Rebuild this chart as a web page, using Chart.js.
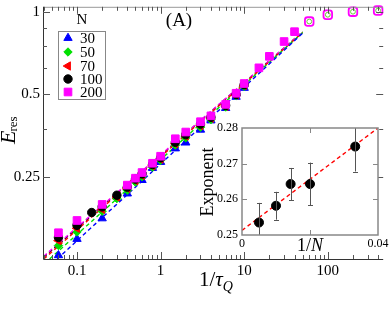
<!DOCTYPE html>
<html>
<head>
<meta charset="utf-8">
<script src="https://cdn.jsdelivr.net/npm/chart.js@4.4.1/dist/chart.umd.min.js"></script>
<style>
  body { margin: 0; background: #fff; }
  #wrap { position: relative; width: 390px; height: 312px; }
  #main { position: absolute; left: 0; top: 0; }
  #inset { position: absolute; left: 200px; top: 120px; }
</style>
</head>
<body>
<div id="wrap">
  <canvas id="main" width="390" height="312"></canvas>
  <canvas id="inset" width="190" height="136"></canvas>
</div>
<script>
// main panel: E_res against 1/tau_Q, one series per chain length N
const tauInv = [0.06, 0.1, 0.15, 0.2, 0.3, 0.4, 0.5, 0.6, 0.8, 1, 1.5, 2, 3, 4, 6, 8, 10, 15, 20, 30, 40];
const eres30 = [0.130, 0.149, null, 0.177, null, 0.218, null, 0.244, 0.270, 0.284, 0.318, 0.334, 0.372, 0.402, 0.446, 0.490, 0.528, null, null, null, null];
const eres50 = [0.141, 0.158, null, 0.188, 0.209, 0.224, 0.240, 0.251, 0.272, 0.288, 0.327, 0.348, 0.380, 0.405, 0.450, 0.495, 0.535, null, null, null, null];
const eres70 = [0.147, 0.163, null, 0.191, 0.212, 0.228, 0.243, 0.254, 0.275, 0.291, 0.331, 0.353, 0.385, 0.410, 0.453, 0.498, 0.540, null, null, null, null];
const eres100 = [0.151, 0.167, 0.186, 0.195, 0.215, 0.230, 0.246, 0.257, 0.278, 0.294, 0.335, 0.357, 0.390, 0.413, 0.456, 0.500, 0.543, null, null, null, null];
const eres200 = [0.157, 0.174, null, 0.199, null, 0.234, 0.248, 0.260, 0.281, 0.298, 0.345, 0.365, 0.398, 0.418, 0.460, 0.505, 0.548, 0.625, 0.688, 0.779, 0.846];

// slow-quench points drawn open
const openX = [60, 100, 200, 400];
const openY = [0.921, 0.975, 1.0, 1.01];

// dashed power-law fits (start and end), N = 30, 50, 70, 100, 200
const fitX0 = [0.058, 0.047, 0.04, 0.04, 0.04];
const fitY0 = [0.126, 0.126, 0.126, 0.128, 0.129];
const fitX1 = [50, 50, 50, 50, 50];
const fitY1 = [0.835, 0.84, 0.84, 0.845, 0.845];

const nLabels = ['30', '50', '70', '100', '200'];
const xTickLabels = [0.1, 1, 10, 100];
const yTickLabels = [0.25, 0.5, 1];

// inset: fitted exponent against 1/N
const invN = [0.005, 0.01, 0.0143, 0.02, 0.0333];
const expo = [0.2535, 0.2582, 0.2643, 0.2643, 0.2748];
const expoErr = [0.0055, 0.0039, 0.0045, 0.006, 0.007];
const expoFitX = [0, 0.04];
const expoFitY = [0.2513, 0.28];

const serif = '"Liberation Serif", "DejaVu Serif", serif';
const colors = ['#0000ff', '#00e000', '#ff0000', '#000000', '#ff00ff'];
const styles = [
  { pointStyle: 'triangle', rotation: 0, radius: 4.8 },
  { pointStyle: 'rectRot', rotation: 0, radius: 4.2 },
  { pointStyle: 'triangle', rotation: -90, radius: 4.8 },
  { pointStyle: 'circle', rotation: 0, radius: 4.2 },
  { pointStyle: 'rect', rotation: 0, radius: 5.4 }
];
const allSeries = [eres30, eres50, eres70, eres100, eres200];
// fit lines: black underneath, magenta above it, then red, green, blue
const lineOrder = [11, 12, 13, 15, 14];

function pairs(xs, ys) {
  const out = [];
  xs.forEach((x, i) => { if (ys[i] != null) out.push({ x, y: ys[i] }); });
  return out;
}

const datasets = [];
allSeries.forEach((ys, i) => {
  datasets.push({
    data: [{ x: fitX0[i], y: fitY0[i] }, { x: fitX1[i], y: fitY1[i] }],
    showLine: true,
    borderColor: colors[i],
    borderWidth: 1.4,
    borderDash: [4, 3],
    pointRadius: 0,
    order: lineOrder[i]
  });
});
allSeries.forEach((ys, i) => {
  datasets.push({
    data: pairs(tauInv, ys),
    pointStyle: styles[i].pointStyle,
    rotation: styles[i].rotation,
    pointRadius: styles[i].radius,
    backgroundColor: colors[i],
    borderColor: colors[i],
    borderWidth: 1,
    clip: false,
    order: 5 - i
  });
});
datasets.push({
  data: pairs(openX, openY),
  pointStyle: 'rectRounded',
  pointRadius: 5,
  backgroundColor: 'rgba(0,0,0,0)',
  borderColor: '#ff00ff',
  borderWidth: 1.8,
  clip: false,
  order: 0
});
datasets.push({
  data: pairs(openX, openY),
  pointStyle: 'circle',
  pointRadius: 2.4,
  backgroundColor: 'rgba(0,0,0,0)',
  borderColor: '#66cc33',
  borderWidth: 1,
  clip: false,
  order: 0
});

function marker(ctx, i, x, y) {
  if (Chart.helpers && Chart.helpers.drawPoint) {
    ctx.fillStyle = colors[i];
    ctx.strokeStyle = colors[i];
    ctx.lineWidth = 1;
    Chart.helpers.drawPoint(ctx, {
      pointStyle: styles[i].pointStyle,
      rotation: styles[i].rotation,
      radius: styles[i].radius,
      borderWidth: 1
    }, x, y);
  }
}

const mainDecor = {
  id: 'mainDecor',
  afterDraw(chart) {
    const { ctx, chartArea: a, scales: { x, y } } = chart;
    ctx.save();
    // frame
    ctx.lineWidth = 1;
    ctx.strokeStyle = '#999';
    ctx.beginPath();
    ctx.moveTo(a.left, a.top + 0.5);
    ctx.lineTo(a.right, a.top + 0.5);
    ctx.stroke();
    ctx.strokeStyle = '#333';
    ctx.beginPath();
    ctx.moveTo(a.left + 0.5, a.top);
    ctx.lineTo(a.left + 0.5, a.bottom + 0.5);
    ctx.lineTo(a.right, a.bottom + 0.5);
    ctx.stroke();

    // log ticks on bottom and top, pointing inward
    ctx.strokeStyle = '#555';
    for (let e = -2; e <= 2; e++) {
      for (let m = 1; m <= 9; m++) {
        const v = m * Math.pow(10, e);
        if (v < x.min || v > x.max) continue;
        const px = Math.round(x.getPixelForValue(v)) + 0.5;
        const len = m === 1 ? 7 : 4;
        ctx.beginPath();
        ctx.moveTo(px, a.bottom);
        ctx.lineTo(px, a.bottom - len);
        ctx.moveTo(px, a.top);
        ctx.lineTo(px, a.top + len);
        ctx.stroke();
      }
    }
    // y ticks on left and right
    const yMinor = [0.375, 0.625, 0.75, 0.875];
    yTickLabels.concat(yMinor).forEach(v => {
      const py = Math.round(y.getPixelForValue(v)) + 0.5;
      const len = yTickLabels.includes(v) ? 7 : 4;
      ctx.beginPath();
      ctx.moveTo(a.left, py);
      ctx.lineTo(a.left + len, py);
      ctx.moveTo(a.right, py);
      ctx.lineTo(a.right - len, py);
      ctx.stroke();
    });

    // legend
    ctx.strokeStyle = '#888';
    ctx.strokeRect(58.5, 31.5, 47, 68);
    ctx.fillStyle = '#000';
    ctx.font = '15px ' + serif;
    ctx.textAlign = 'center';
    ctx.textBaseline = 'middle';
    ctx.fillText('N', 82, 20);
    ctx.textAlign = 'left';
    const rows = [38, 52, 66, 79, 92];
    nLabels.forEach((t, i) => {
      marker(ctx, i, 68, rows[i]);
      ctx.fillStyle = '#000';
      ctx.fillText(t, 80, rows[i] + 1);
    });

    // panel label
    ctx.font = '19px ' + serif;
    ctx.textAlign = 'center';
    ctx.fillText('(A)', 179, 21);

    // x title 1/tau_Q
    ctx.textBaseline = 'alphabetic';
    ctx.textAlign = 'left';
    ctx.font = '21px ' + serif;
    let cx = 199;
    ctx.fillText('1/', cx, 286);
    cx += ctx.measureText('1/').width;
    ctx.font = 'italic 21px ' + serif;
    ctx.fillText('\u03c4', cx, 286);
    cx += ctx.measureText('\u03c4').width;
    ctx.font = 'italic 14px ' + serif;
    ctx.fillText('Q', cx, 291);

    // y title E_res
    ctx.save();
    ctx.translate(15, 144);
    ctx.rotate(-Math.PI / 2);
    ctx.font = 'italic 22px ' + serif;
    ctx.fillText('E', 0, 0);
    const w = ctx.measureText('E').width;
    ctx.font = '13px ' + serif;
    ctx.fillText('res', w - 1, 2);
    ctx.restore();

    ctx.restore();
  }
};

new Chart(document.getElementById('main'), {
  type: 'scatter',
  data: { datasets },
  options: {
    responsive: false,
    animation: false,
    devicePixelRatio: 1,
    layout: { padding: { top: 2, right: 0, left: 0, bottom: 0 } },
    plugins: { legend: { display: false }, tooltip: { enabled: false } },
    scales: {
      x: {
        type: 'logarithmic',
        min: 0.0392,
        max: 460,
        grid: { display: false, drawTicks: false },
        border: { display: false },
        afterBuildTicks: s => { s.ticks = xTickLabels.map(v => ({ value: v })); },
        afterFit: s => { s.height = 53; s.paddingLeft = 0; s.paddingRight = 0; },
        ticks: {
          font: { family: serif, size: 15 },
          color: '#000',
          padding: 3,
          maxRotation: 0,
          autoSkip: false,
          callback: v => String(v)
        }
      },
      y: {
        type: 'logarithmic',
        min: 0.126,
        max: 1.042,
        grid: { display: false, drawTicks: false },
        border: { display: false },
        afterBuildTicks: s => { s.ticks = yTickLabels.map(v => ({ value: v })); },
        afterFit: s => { s.width = 43; s.paddingTop = 0; s.paddingBottom = 0; },
        ticks: {
          font: { family: serif, size: 15 },
          color: '#000',
          padding: 3,
          autoSkip: false,
          callback: v => String(v)
        }
      }
    }
  },
  plugins: [mainDecor]
});

// inset chart
const insetDecor = {
  id: 'insetDecor',
  beforeDraw(chart) {
    const { ctx, chartArea: a } = chart;
    ctx.save();
    ctx.fillStyle = '#fff';
    ctx.fillRect(a.left, a.top, a.right - a.left, a.bottom - a.top);
    ctx.restore();
  },
  afterDatasetsDraw(chart) {
    const { ctx, chartArea: a, scales: { x, y } } = chart;
    ctx.save();
    // error bars
    ctx.beginPath();
    ctx.rect(a.left, a.top, a.right - a.left, a.bottom - a.top);
    ctx.clip();
    ctx.strokeStyle = '#555';
    ctx.lineWidth = 1;
    invN.forEach((v, i) => {
      const px = Math.round(x.getPixelForValue(v)) + 0.5;
      const y0 = y.getPixelForValue(expo[i] - expoErr[i]);
      const y1 = y.getPixelForValue(expo[i] + expoErr[i]);
      ctx.beginPath();
      ctx.moveTo(px, y0);
      ctx.lineTo(px, y1);
      ctx.moveTo(px - 2.5, Math.round(y0) + 0.5);
      ctx.lineTo(px + 2.5, Math.round(y0) + 0.5);
      ctx.moveTo(px - 2.5, Math.round(y1) + 0.5);
      ctx.lineTo(px + 2.5, Math.round(y1) + 0.5);
      ctx.stroke();
    });
    ctx.restore();
  },
  afterDraw(chart) {
    const { ctx, chartArea: a, scales: { x, y } } = chart;
    ctx.save();
    ctx.strokeStyle = '#888';
    ctx.lineWidth = 1.5;
    ctx.strokeRect(a.left, a.top, a.right - a.left, a.bottom - a.top);
    ctx.lineWidth = 1;
    [0.26, 0.27].forEach(v => {
      const py = Math.round(y.getPixelForValue(v)) + 0.5;
      ctx.beginPath();
      ctx.moveTo(a.left, py);
      ctx.lineTo(a.left + 5, py);
      ctx.moveTo(a.right, py);
      ctx.lineTo(a.right - 5, py);
      ctx.stroke();
    });
    [0.02].forEach(v => {
      const px = Math.round(x.getPixelForValue(v)) + 0.5;
      ctx.beginPath();
      ctx.moveTo(px, a.bottom);
      ctx.lineTo(px, a.bottom - 5);
      ctx.moveTo(px, a.top);
      ctx.lineTo(px, a.top + 5);
      ctx.stroke();
    });

    ctx.fillStyle = '#000';
    ctx.textBaseline = 'alphabetic';
    // x title 1/N
    ctx.font = '18px ' + serif;
    ctx.textAlign = 'left';
    let cx = 97;
    ctx.fillText('1/', cx, 131);
    cx += ctx.measureText('1/').width;
    ctx.font = 'italic 18px ' + serif;
    ctx.fillText('N', cx, 131);
    // y title
    ctx.save();
    ctx.translate(13, 62);
    ctx.rotate(-Math.PI / 2);
    ctx.font = '18px ' + serif;
    ctx.textAlign = 'center';
    ctx.fillText('Exponent', 0, 0);
    ctx.restore();
    ctx.restore();
  }
};

new Chart(document.getElementById('inset'), {
  type: 'scatter',
  data: {
    datasets: [
      {
        data: pairs(expoFitX, expoFitY),
        showLine: true,
        borderColor: '#ff0000',
        borderWidth: 1.4,
        borderDash: [4, 3],
        pointRadius: 0,
        order: 2
      },
      {
        data: pairs(invN, expo),
        pointStyle: 'circle',
        pointRadius: 4.5,
        backgroundColor: '#000',
        borderColor: '#000',
        borderWidth: 1,
        order: 1
      }
    ]
  },
  options: {
    responsive: false,
    animation: false,
    devicePixelRatio: 1,
    layout: { padding: { top: 8, right: 12, left: 0, bottom: 0 } },
    plugins: { legend: { display: false }, tooltip: { enabled: false } },
    scales: {
      x: {
        type: 'linear',
        min: 0,
        max: 0.04,
        grid: { display: false, drawTicks: false },
        border: { display: false },
        afterBuildTicks: s => { s.ticks = [{ value: 0 }, { value: 0.04 }]; },
        afterFit: s => { s.height = 21; s.paddingLeft = 0; s.paddingRight = 0; },
        ticks: {
          font: { family: serif, size: 12 },
          color: '#000',
          padding: 2,
          maxRotation: 0,
          autoSkip: false,
          callback: v => (v === 0 ? '0' : '0.04')
        }
      },
      y: {
        type: 'linear',
        min: 0.25,
        max: 0.28,
        grid: { display: false, drawTicks: false },
        border: { display: false },
        afterBuildTicks: s => { s.ticks = [0.25, 0.26, 0.27, 0.28].map(v => ({ value: v })); },
        afterFit: s => { s.width = 42; s.paddingTop = 0; s.paddingBottom = 0; },
        ticks: {
          font: { family: serif, size: 12 },
          color: '#000',
          padding: 4,
          autoSkip: false,
          callback: v => v.toFixed(2)
        }
      }
    }
  },
  plugins: [insetDecor]
});
</script>
</body>
</html>
